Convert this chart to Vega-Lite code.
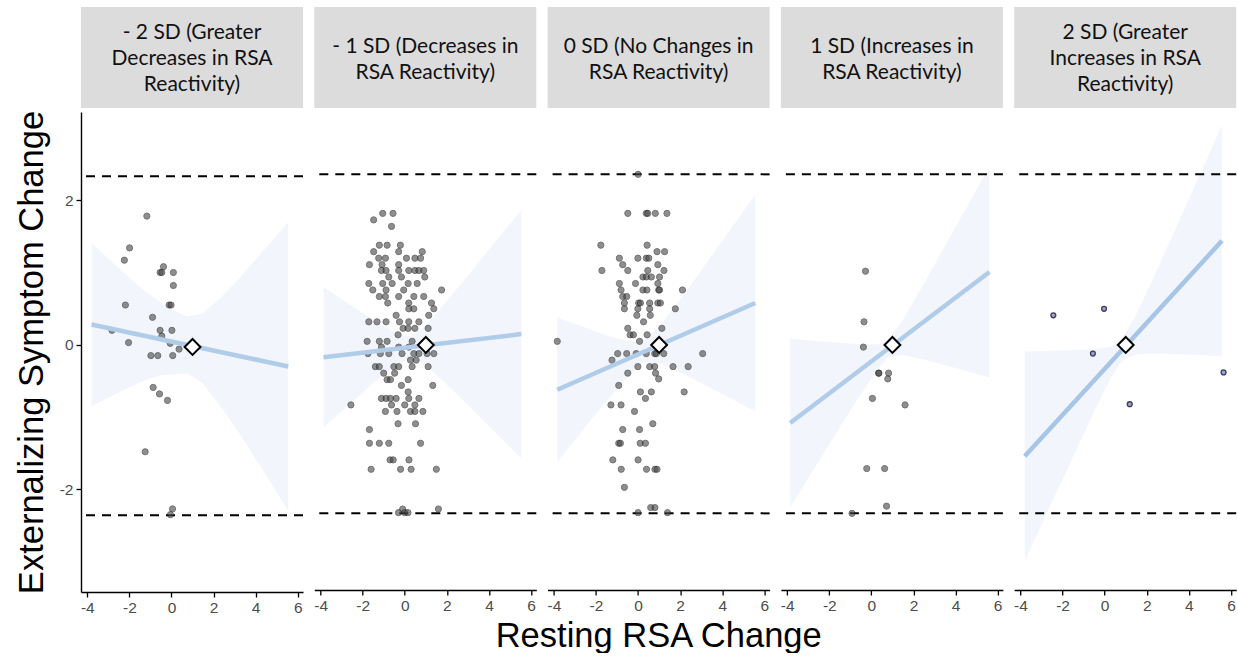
{
  "$schema": "https://vega.github.io/schema/vega-lite/v6.json",
  "padding": {"left": 14, "top": 7, "right": 0, "bottom": 0},
  "background": "white",
  "spacing": 9.3,
  "title": {"text": "Resting RSA Change", "orient": "bottom", "anchor": "middle", "font": "Liberation Sans", "fontSize": 34.5, "fontWeight": "normal", "color": "#000", "offset": 4, "dx": 33},
  "config": {
    "view": {"stroke": null},
    "axis": {"grid": false, "labelFont": "Liberation Sans", "labelFontSize": 15.5, "labelColor": "#4d4d4d", "labelPadding": 3, "labelFlush": false, "labelOverlap": false, "tickColor": "#000", "domainColor": "#000", "tickSize": 5, "tickWidth": 1.3, "domainWidth": 1.4, "titleFont": "Liberation Sans", "titleFontSize": 34.5, "titleFontWeight": "normal", "titleColor": "#000"}
  },
  "datasets": {
    "headers": [
      {"panel": 1, "label": "- 2 SD (Greater\nDecreases in RSA\nReactivity)"},
      {"panel": 2, "label": "- 1 SD (Decreases in\nRSA Reactivity)"},
      {"panel": 3, "label": "0 SD (No Changes in\nRSA Reactivity)"},
      {"panel": 4, "label": "1 SD (Increases in\nRSA Reactivity)"},
      {"panel": 5, "label": "2 SD (Greater\nIncreases in RSA\nReactivity)"}
    ],
    "refs": [{"y": 2.33}, {"y": -2.36}],
    "means": [
      {"panel": 1, "x": 1, "y": -0.03},
      {"panel": 2, "x": 1, "y": -0.03},
      {"panel": 3, "x": 1, "y": -0.03},
      {"panel": 4, "x": 1, "y": -0.03},
      {"panel": 5, "x": 1, "y": -0.03}
    ],
    "lines": [
      {"panel": 1, "x": -3.8, "y": 0.28}, {"panel": 1, "x": 5.55, "y": -0.3},
      {"panel": 2, "x": -3.86, "y": -0.2}, {"panel": 2, "x": 5.54, "y": 0.12},
      {"panel": 3, "x": -3.84, "y": -0.65}, {"panel": 3, "x": 5.57, "y": 0.55},
      {"panel": 4, "x": -3.86, "y": -1.11}, {"panel": 4, "x": 5.61, "y": 0.98},
      {"panel": 5, "x": -3.8, "y": -1.57}, {"panel": 5, "x": 5.57, "y": 1.41}
    ],
    "bands": [
      {"panel": 1, "x": -3.8, "lo": -0.85, "hi": 1.41},
      {"panel": 1, "x": -2.5, "lo": -0.66, "hi": 1.06},
      {"panel": 1, "x": -1.5, "lo": -0.52, "hi": 0.8},
      {"panel": 1, "x": -0.5, "lo": -0.42, "hi": 0.58},
      {"panel": 1, "x": 0.5, "lo": -0.4, "hi": 0.42},
      {"panel": 1, "x": 0.8, "lo": -0.4, "hi": 0.39},
      {"panel": 1, "x": 1.5, "lo": -0.54, "hi": 0.44},
      {"panel": 1, "x": 2.5, "lo": -0.92, "hi": 0.7},
      {"panel": 1, "x": 3.5, "lo": -1.35, "hi": 1.01},
      {"panel": 1, "x": 4.5, "lo": -1.81, "hi": 1.35},
      {"panel": 1, "x": 5.55, "lo": -2.3, "hi": 1.7},
      {"panel": 2, "x": -3.86, "lo": -1.17, "hi": 0.77},
      {"panel": 2, "x": -2.5, "lo": -0.82, "hi": 0.51},
      {"panel": 2, "x": -1.5, "lo": -0.56, "hi": 0.32},
      {"panel": 2, "x": -0.5, "lo": -0.32, "hi": 0.15},
      {"panel": 2, "x": 0.3, "lo": -0.21, "hi": 0.09},
      {"panel": 2, "x": 1, "lo": -0.31, "hi": 0.24},
      {"panel": 2, "x": 2, "lo": -0.58, "hi": 0.58},
      {"panel": 2, "x": 3, "lo": -0.86, "hi": 0.93},
      {"panel": 2, "x": 4, "lo": -1.15, "hi": 1.29},
      {"panel": 2, "x": 5.54, "lo": -1.6, "hi": 1.84},
      {"panel": 3, "x": -3.84, "lo": -1.65, "hi": 0.35},
      {"panel": 3, "x": -2.5, "lo": -1.16, "hi": 0.21},
      {"panel": 3, "x": -1.5, "lo": -0.81, "hi": 0.1},
      {"panel": 3, "x": -0.5, "lo": -0.47, "hi": 0.02},
      {"panel": 3, "x": 0.3, "lo": -0.27, "hi": 0.03},
      {"panel": 3, "x": 1, "lo": -0.28, "hi": 0.22},
      {"panel": 3, "x": 2, "lo": -0.41, "hi": 0.6},
      {"panel": 3, "x": 3, "lo": -0.56, "hi": 1.0},
      {"panel": 3, "x": 4, "lo": -0.71, "hi": 1.41},
      {"panel": 3, "x": 5.57, "lo": -0.95, "hi": 2.05},
      {"panel": 4, "x": -3.86, "lo": -2.28, "hi": 0.06},
      {"panel": 4, "x": -2.5, "lo": -1.64, "hi": 0.02},
      {"panel": 4, "x": -1.5, "lo": -1.17, "hi": 0.0},
      {"panel": 4, "x": -0.5, "lo": -0.71, "hi": -0.02},
      {"panel": 4, "x": 0.3, "lo": -0.36, "hi": -0.02},
      {"panel": 4, "x": 0.8, "lo": -0.2, "hi": 0.04},
      {"panel": 4, "x": 1.5, "lo": -0.17, "hi": 0.32},
      {"panel": 4, "x": 2.5, "lo": -0.23, "hi": 0.82},
      {"panel": 4, "x": 3.5, "lo": -0.31, "hi": 1.34},
      {"panel": 4, "x": 4.5, "lo": -0.39, "hi": 1.86},
      {"panel": 4, "x": 5.61, "lo": -0.48, "hi": 2.44},
      {"panel": 5, "x": -3.8, "lo": -3.02, "hi": -0.12},
      {"panel": 5, "x": -2.5, "lo": -2.2, "hi": -0.11},
      {"panel": 5, "x": -1.5, "lo": -1.58, "hi": -0.1},
      {"panel": 5, "x": -0.5, "lo": -0.95, "hi": -0.09},
      {"panel": 5, "x": 0.3, "lo": -0.48, "hi": -0.05},
      {"panel": 5, "x": 0.8, "lo": -0.26, "hi": 0.04},
      {"panel": 5, "x": 1.5, "lo": -0.16, "hi": 0.39},
      {"panel": 5, "x": 2.5, "lo": -0.15, "hi": 1.02},
      {"panel": 5, "x": 3.5, "lo": -0.16, "hi": 1.66},
      {"panel": 5, "x": 4.5, "lo": -0.17, "hi": 2.31},
      {"panel": 5, "x": 5.57, "lo": -0.19, "hi": 3.01}
    ],
    "points": [
      {"panel": 1, "x": -1.17, "y": 1.78}, {"panel": 1, "x": -1.99, "y": 1.34}, {"panel": 1, "x": -2.24, "y": 1.17},
      {"panel": 1, "x": -0.38, "y": 1.08}, {"panel": 1, "x": -0.54, "y": 1.0}, {"panel": 1, "x": -0.46, "y": 1.0},
      {"panel": 1, "x": 0.09, "y": 1.0}, {"panel": 1, "x": 0.09, "y": 0.82}, {"panel": 1, "x": -2.19, "y": 0.55},
      {"panel": 1, "x": -0.11, "y": 0.55}, {"panel": 1, "x": -0.02, "y": 0.55}, {"panel": 1, "x": -0.9, "y": 0.38},
      {"panel": 1, "x": -2.83, "y": 0.2}, {"panel": 1, "x": -0.54, "y": 0.2}, {"panel": 1, "x": 0.02, "y": 0.2},
      {"panel": 1, "x": -0.46, "y": 0.12}, {"panel": 1, "x": -2.04, "y": 0.03}, {"panel": 1, "x": -0.06, "y": 0.02},
      {"panel": 1, "x": 0.36, "y": -0.06}, {"panel": 1, "x": -0.98, "y": -0.15}, {"panel": 1, "x": -0.65, "y": -0.15},
      {"panel": 1, "x": 0.06, "y": -0.15}, {"panel": 1, "x": -0.87, "y": -0.59}, {"panel": 1, "x": -0.57, "y": -0.68},
      {"panel": 1, "x": -0.19, "y": -0.77}, {"panel": 1, "x": -1.25, "y": -1.48}, {"panel": 1, "x": -0.05, "y": -2.35},
      {"panel": 1, "x": 0.05, "y": -2.27},

      {"panel": 2, "x": -1.05, "y": 1.79}, {"panel": 2, "x": -0.56, "y": 1.79}, {"panel": 2, "x": -1.48, "y": 1.7},
      {"panel": 2, "x": -0.63, "y": 1.61}, {"panel": 2, "x": -1.21, "y": 1.35}, {"panel": 2, "x": -0.84, "y": 1.35},
      {"panel": 2, "x": -0.21, "y": 1.35}, {"panel": 2, "x": -1.48, "y": 1.26}, {"panel": 2, "x": -0.29, "y": 1.26},
      {"panel": 2, "x": 0.83, "y": 1.26}, {"panel": 2, "x": -1.24, "y": 1.17}, {"panel": 2, "x": -0.92, "y": 1.17},
      {"panel": 2, "x": 0.08, "y": 1.17}, {"panel": 2, "x": 0.48, "y": 1.17}, {"panel": 2, "x": 0.75, "y": 1.17},
      {"panel": 2, "x": -1.68, "y": 1.08}, {"panel": 2, "x": -1.08, "y": 1.08}, {"panel": 2, "x": -0.29, "y": 1.08},
      {"panel": 2, "x": -1.11, "y": 1.0}, {"panel": 2, "x": -0.89, "y": 1.0}, {"panel": 2, "x": -0.29, "y": 1.0},
      {"panel": 2, "x": 0.19, "y": 1.0}, {"panel": 2, "x": 0.48, "y": 1.0}, {"panel": 2, "x": 0.67, "y": 1.0},
      {"panel": 2, "x": 0.9, "y": 1.0}, {"panel": 2, "x": -0.76, "y": 0.91}, {"panel": 2, "x": -0.16, "y": 0.91},
      {"panel": 2, "x": 0.95, "y": 0.91}, {"panel": 2, "x": -1.71, "y": 0.82}, {"panel": 2, "x": -1.05, "y": 0.82},
      {"panel": 2, "x": -0.6, "y": 0.82}, {"panel": 2, "x": 0.16, "y": 0.82}, {"panel": 2, "x": 0.59, "y": 0.82},
      {"panel": 2, "x": -1.52, "y": 0.73}, {"panel": 2, "x": -0.89, "y": 0.73}, {"panel": 2, "x": -0.05, "y": 0.73},
      {"panel": 2, "x": 1.75, "y": 0.73}, {"panel": 2, "x": -1.21, "y": 0.64}, {"panel": 2, "x": -0.92, "y": 0.64},
      {"panel": 2, "x": -0.29, "y": 0.64}, {"panel": 2, "x": 0.43, "y": 0.64}, {"panel": 2, "x": 0.9, "y": 0.64},
      {"panel": 2, "x": -0.81, "y": 0.55}, {"panel": 2, "x": 0.19, "y": 0.55}, {"panel": 2, "x": 1.27, "y": 0.55},
      {"panel": 2, "x": 0.19, "y": 0.47}, {"panel": 2, "x": 0.43, "y": 0.47}, {"panel": 2, "x": 1.38, "y": 0.47},
      {"panel": 2, "x": -0.41, "y": 0.38}, {"panel": 2, "x": 1.14, "y": 0.38}, {"panel": 2, "x": -1.71, "y": 0.29},
      {"panel": 2, "x": -1.32, "y": 0.29}, {"panel": 2, "x": -0.89, "y": 0.29}, {"panel": 2, "x": -0.25, "y": 0.29},
      {"panel": 2, "x": 0.19, "y": 0.29}, {"panel": 2, "x": 0.67, "y": 0.29}, {"panel": 2, "x": -0.08, "y": 0.2},
      {"panel": 2, "x": 0.16, "y": 0.2}, {"panel": 2, "x": 0.48, "y": 0.2}, {"panel": 2, "x": 1.11, "y": 0.2},
      {"panel": 2, "x": -0.32, "y": 0.11}, {"panel": 2, "x": -1.79, "y": 0.02}, {"panel": 2, "x": -1.21, "y": 0.02},
      {"panel": 2, "x": -0.84, "y": 0.02}, {"panel": 2, "x": 0.35, "y": 0.02}, {"panel": 2, "x": -1.11, "y": -0.06},
      {"panel": 2, "x": -0.29, "y": -0.06}, {"panel": 2, "x": 0.19, "y": -0.06}, {"panel": 2, "x": -1.75, "y": -0.15},
      {"panel": 2, "x": -1.16, "y": -0.15}, {"panel": 2, "x": -0.76, "y": -0.15}, {"panel": 2, "x": -0.13, "y": -0.15},
      {"panel": 2, "x": 0.43, "y": -0.15}, {"panel": 2, "x": 0.67, "y": -0.15}, {"panel": 2, "x": 1.06, "y": -0.15},
      {"panel": 2, "x": 1.38, "y": -0.15}, {"panel": 2, "x": 0.27, "y": -0.24}, {"panel": 2, "x": 0.54, "y": -0.24},
      {"panel": 2, "x": -1.4, "y": -0.33}, {"panel": 2, "x": -1.21, "y": -0.33}, {"panel": 2, "x": -0.52, "y": -0.33},
      {"panel": 2, "x": -0.29, "y": -0.33}, {"panel": 2, "x": 0.35, "y": -0.33}, {"panel": 2, "x": 1.11, "y": -0.33},
      {"panel": 2, "x": -1.0, "y": -0.42}, {"panel": 2, "x": -0.48, "y": -0.42}, {"panel": 2, "x": -0.84, "y": -0.51},
      {"panel": 2, "x": -0.68, "y": -0.51}, {"panel": 2, "x": 0.16, "y": -0.51}, {"panel": 2, "x": -0.16, "y": -0.59},
      {"panel": 2, "x": 1.33, "y": -0.59}, {"panel": 2, "x": 0.16, "y": -0.68}, {"panel": 2, "x": -1.11, "y": -0.77},
      {"panel": 2, "x": -0.89, "y": -0.77}, {"panel": 2, "x": -0.68, "y": -0.77}, {"panel": 2, "x": -0.41, "y": -0.77},
      {"panel": 2, "x": 0.19, "y": -0.77}, {"panel": 2, "x": 0.67, "y": -0.77}, {"panel": 2, "x": -2.56, "y": -0.86},
      {"panel": 2, "x": -0.63, "y": -0.86}, {"panel": 2, "x": 0.0, "y": -0.86}, {"panel": 2, "x": 0.48, "y": -0.86},
      {"panel": 2, "x": -0.92, "y": -0.95}, {"panel": 2, "x": -0.37, "y": -0.95}, {"panel": 2, "x": 0.27, "y": -0.95},
      {"panel": 2, "x": 0.48, "y": -0.95}, {"panel": 2, "x": 0.86, "y": -0.95}, {"panel": 2, "x": -0.32, "y": -1.12},
      {"panel": 2, "x": 0.51, "y": -1.12}, {"panel": 2, "x": -1.68, "y": -1.2}, {"panel": 2, "x": -1.68, "y": -1.39},
      {"panel": 2, "x": -1.21, "y": -1.39}, {"panel": 2, "x": -0.76, "y": -1.39}, {"panel": 2, "x": 0.75, "y": -1.39},
      {"panel": 2, "x": -0.7, "y": -1.62}, {"panel": 2, "x": -0.55, "y": -1.62}, {"panel": 2, "x": 0.2, "y": -1.62},
      {"panel": 2, "x": -1.6, "y": -1.75}, {"panel": 2, "x": -0.2, "y": -1.75}, {"panel": 2, "x": 0.3, "y": -1.75},
      {"panel": 2, "x": 1.5, "y": -1.75}, {"panel": 2, "x": -0.1, "y": -2.3}, {"panel": 2, "x": 1.6, "y": -2.3},
      {"panel": 2, "x": -0.3, "y": -2.35}, {"panel": 2, "x": 0.0, "y": -2.35}, {"panel": 2, "x": 0.15, "y": -2.35},

      {"panel": 3, "x": -0.49, "y": 1.79}, {"panel": 3, "x": 0.39, "y": 1.79}, {"panel": 3, "x": 0.46, "y": 1.79},
      {"panel": 3, "x": 0.82, "y": 1.79}, {"panel": 3, "x": 1.37, "y": 1.79}, {"panel": 3, "x": -1.77, "y": 1.35},
      {"panel": 3, "x": 0.43, "y": 1.35}, {"panel": 3, "x": 0.9, "y": 1.26}, {"panel": 3, "x": 1.26, "y": 1.26},
      {"panel": 3, "x": -0.89, "y": 1.17}, {"panel": 3, "x": -0.01, "y": 1.17}, {"panel": 3, "x": 0.39, "y": 1.17},
      {"panel": 3, "x": 0.51, "y": 1.17}, {"panel": 3, "x": -0.73, "y": 1.08}, {"panel": 3, "x": 0.94, "y": 1.08},
      {"panel": 3, "x": -1.72, "y": 1.0}, {"panel": 3, "x": -0.49, "y": 1.0}, {"panel": 3, "x": 0.46, "y": 1.0},
      {"panel": 3, "x": 1.23, "y": 1.0}, {"panel": 3, "x": 0.23, "y": 0.91}, {"panel": 3, "x": 0.39, "y": 0.91},
      {"panel": 3, "x": 0.63, "y": 0.91}, {"panel": 3, "x": 1.02, "y": 0.91}, {"panel": 3, "x": -0.89, "y": 0.82},
      {"panel": 3, "x": -0.12, "y": 0.82}, {"panel": 3, "x": 0.94, "y": 0.82}, {"panel": 3, "x": -0.81, "y": 0.73},
      {"panel": 3, "x": 0.23, "y": 0.73}, {"panel": 3, "x": 0.42, "y": 0.73}, {"panel": 3, "x": 0.98, "y": 0.73},
      {"panel": 3, "x": 1.02, "y": 0.73}, {"panel": 3, "x": 2.11, "y": 0.73}, {"panel": 3, "x": -0.73, "y": 0.64},
      {"panel": 3, "x": -0.54, "y": 0.64}, {"panel": 3, "x": -0.65, "y": 0.55}, {"panel": 3, "x": 0.03, "y": 0.55},
      {"panel": 3, "x": 0.11, "y": 0.55}, {"panel": 3, "x": 0.55, "y": 0.55}, {"panel": 3, "x": 0.94, "y": 0.55},
      {"panel": 3, "x": 1.06, "y": 0.55}, {"panel": 3, "x": -0.65, "y": 0.47}, {"panel": 3, "x": -0.01, "y": 0.47},
      {"panel": 3, "x": 0.55, "y": 0.47}, {"panel": 3, "x": 1.77, "y": 0.47}, {"panel": 3, "x": -0.06, "y": 0.38},
      {"panel": 3, "x": 0.58, "y": 0.38}, {"panel": 3, "x": 0.26, "y": 0.29}, {"panel": 3, "x": -0.49, "y": 0.2},
      {"panel": 3, "x": 1.13, "y": 0.2}, {"panel": 3, "x": -0.38, "y": 0.11}, {"panel": 3, "x": -0.22, "y": 0.11},
      {"panel": 3, "x": 0.43, "y": 0.11}, {"panel": 3, "x": -3.84, "y": 0.02}, {"panel": 3, "x": 0.07, "y": 0.02},
      {"panel": 3, "x": -0.97, "y": -0.15}, {"panel": 3, "x": -0.54, "y": -0.15}, {"panel": 3, "x": -0.09, "y": -0.15},
      {"panel": 3, "x": 0.39, "y": -0.15}, {"panel": 3, "x": 0.79, "y": -0.15}, {"panel": 3, "x": 0.87, "y": -0.15},
      {"panel": 3, "x": 1.22, "y": -0.15}, {"panel": 3, "x": 3.07, "y": -0.15}, {"panel": 3, "x": -1.24, "y": -0.24},
      {"panel": 3, "x": -0.01, "y": -0.33}, {"panel": 3, "x": 0.55, "y": -0.33}, {"panel": 3, "x": 0.79, "y": -0.33},
      {"panel": 3, "x": 1.66, "y": -0.33}, {"panel": 3, "x": 2.38, "y": -0.33}, {"panel": 3, "x": -0.49, "y": -0.42},
      {"panel": 3, "x": 0.83, "y": -0.42}, {"panel": 3, "x": 0.98, "y": -0.5}, {"panel": 3, "x": -0.92, "y": -0.59},
      {"panel": 3, "x": 0.11, "y": -0.68}, {"panel": 3, "x": 0.63, "y": -0.68}, {"panel": 3, "x": 2.19, "y": -0.68},
      {"panel": 3, "x": 0.35, "y": -0.77}, {"panel": 3, "x": -1.29, "y": -0.86}, {"panel": 3, "x": -0.81, "y": -0.86},
      {"panel": 3, "x": -0.17, "y": -0.95}, {"panel": 3, "x": 0.7, "y": -1.12}, {"panel": 3, "x": -0.73, "y": -1.2},
      {"panel": 3, "x": 0.07, "y": -1.2}, {"panel": 3, "x": -0.92, "y": -1.39}, {"panel": 3, "x": -0.84, "y": -1.39},
      {"panel": 3, "x": 0.1, "y": -1.39}, {"panel": 3, "x": 0.35, "y": -1.39}, {"panel": 3, "x": -1.2, "y": -1.62},
      {"panel": 3, "x": 0.0, "y": -1.62}, {"panel": 3, "x": -0.8, "y": -1.75}, {"panel": 3, "x": 0.4, "y": -1.75},
      {"panel": 3, "x": 0.8, "y": -1.75}, {"panel": 3, "x": 0.9, "y": -1.75}, {"panel": 3, "x": -0.65, "y": -2.0},
      {"panel": 3, "x": 0.8, "y": -2.28}, {"panel": 3, "x": 0.6, "y": -2.28}, {"panel": 3, "x": 0.0, "y": -2.35},
      {"panel": 3, "x": 1.4, "y": -2.35}, {"panel": 3, "x": 0.0, "y": 2.33},

      {"panel": 4, "x": -0.28, "y": 0.99}, {"panel": 4, "x": -0.35, "y": 0.29}, {"panel": 4, "x": -0.38, "y": -0.06},
      {"panel": 4, "x": 0.34, "y": -0.42}, {"panel": 4, "x": 0.36, "y": -0.42}, {"panel": 4, "x": 0.82, "y": -0.42},
      {"panel": 4, "x": 0.78, "y": -0.5}, {"panel": 4, "x": 0.05, "y": -0.77}, {"panel": 4, "x": 1.6, "y": -0.86},
      {"panel": 4, "x": -0.22, "y": -1.74}, {"panel": 4, "x": 0.63, "y": -1.74}, {"panel": 4, "x": 0.72, "y": -2.26},
      {"panel": 4, "x": -0.92, "y": -2.36},

      {"panel": 5, "x": -2.44, "y": 0.38}, {"panel": 5, "x": -0.03, "y": 0.47}, {"panel": 5, "x": -0.56, "y": -0.15},
      {"panel": 5, "x": 1.19, "y": -0.85}, {"panel": 5, "x": 5.65, "y": -0.41}
    ]
  },
  "hconcat": [
    {
      "spacing": 2,
      "vconcat": [
        {"width": 222, "height": 101, "view": {"fill": "#dcdcdc", "stroke": null}, "data": {"name": "headers"}, "transform": [{"filter": "datum.panel == 1"}],
         "mark": {"type": "text", "font": "Lato", "fontSize": 21, "color": "#111", "align": "center", "baseline": "middle", "lineBreak": "\n", "lineHeight": 26, "dy": -25},
         "encoding": {"text": {"field": "label", "type": "nominal"}}},
        {"width": 222, "height": 480, "layer": [
          {"data": {"name": "bands"}, "transform": [{"filter": "datum.panel == 1"}], "mark": {"type": "area", "color": "#f2f6fc", "opacity": 1},
           "encoding": {"x": {"field": "x", "type": "quantitative", "scale": {"domain": [-4.3, 6.25], "nice": false, "zero": false}, "axis": {"values": [-4, -2, 0, 2, 4, 6], "title": null, "labelExpr": "datum.value < 0 ? '-' + abs(datum.value) : '' + datum.value"}},
                        "y": {"field": "lo", "type": "quantitative", "scale": {"domain": [-3.42, 3.22], "nice": false, "zero": false}, "axis": {"values": [-2, 0, 2], "title": "Externalizing Symptom Change", "titlePadding": 10, "labelExpr": "datum.value < 0 ? '-' + abs(datum.value) : '' + datum.value"}}, "y2": {"field": "hi"}}},
          {"data": {"name": "refs"}, "mark": {"type": "rule", "strokeDash": [9, 7], "strokeWidth": 2, "color": "#000"},
           "encoding": {"y": {"field": "y", "type": "quantitative"}}},
          {"data": {"name": "points"}, "transform": [{"filter": "datum.panel == 1"}], "mark": {"type": "circle", "size": 38, "fill": "#4a4a4a", "stroke": "#1e1e1e", "strokeWidth": 1, "opacity": 0.62},
           "encoding": {"x": {"field": "x", "type": "quantitative"}, "y": {"field": "y", "type": "quantitative"}}},
          {"data": {"name": "lines"}, "transform": [{"filter": "datum.panel == 1"}], "mark": {"type": "line", "color": "#b0cce9", "strokeWidth": 4.5},
           "encoding": {"x": {"field": "x", "type": "quantitative"}, "y": {"field": "y", "type": "quantitative"}}},
          {"data": {"name": "means"}, "transform": [{"filter": "datum.panel == 1"}], "mark": {"type": "point", "shape": "diamond", "filled": true, "fill": "#fff", "stroke": "#000", "strokeWidth": 2, "size": 250, "opacity": 1},
           "encoding": {"x": {"field": "x", "type": "quantitative"}, "y": {"field": "y", "type": "quantitative"}}}
        ]}
      ]
    },
    {
      "spacing": 2,
      "vconcat": [
        {"width": 222, "height": 101, "view": {"fill": "#dcdcdc", "stroke": null}, "data": {"name": "headers"}, "transform": [{"filter": "datum.panel == 2"}],
         "mark": {"type": "text", "font": "Lato", "fontSize": 21, "color": "#111", "align": "center", "baseline": "middle", "lineBreak": "\n", "lineHeight": 26, "dy": -11},
         "encoding": {"text": {"field": "label", "type": "nominal"}}},
        {"width": 222, "height": 480, "layer": [
          {"data": {"name": "bands"}, "transform": [{"filter": "datum.panel == 2"}], "mark": {"type": "area", "color": "#f2f6fc", "opacity": 1},
           "encoding": {"x": {"field": "x", "type": "quantitative", "scale": {"domain": [-4.3, 6.25], "nice": false, "zero": false}, "axis": {"values": [-4, -2, 0, 2, 4, 6], "title": null, "labelExpr": "datum.value < 0 ? '-' + abs(datum.value) : '' + datum.value"}},
                        "y": {"field": "lo", "type": "quantitative", "scale": {"domain": [-3.42, 3.22], "nice": false, "zero": false}, "axis": null}, "y2": {"field": "hi"}}},
          {"data": {"name": "refs"}, "mark": {"type": "rule", "strokeDash": [9, 7], "strokeWidth": 2, "color": "#000"},
           "encoding": {"y": {"field": "y", "type": "quantitative", "axis": null}}},
          {"data": {"name": "points"}, "transform": [{"filter": "datum.panel == 2"}], "mark": {"type": "circle", "size": 38, "fill": "#4a4a4a", "stroke": "#1e1e1e", "strokeWidth": 1, "opacity": 0.62},
           "encoding": {"x": {"field": "x", "type": "quantitative"}, "y": {"field": "y", "type": "quantitative", "axis": null}}},
          {"data": {"name": "lines"}, "transform": [{"filter": "datum.panel == 2"}], "mark": {"type": "line", "color": "#b0cce9", "strokeWidth": 4.5},
           "encoding": {"x": {"field": "x", "type": "quantitative"}, "y": {"field": "y", "type": "quantitative", "axis": null}}},
          {"data": {"name": "means"}, "transform": [{"filter": "datum.panel == 2"}], "mark": {"type": "point", "shape": "diamond", "filled": true, "fill": "#fff", "stroke": "#000", "strokeWidth": 2, "size": 250, "opacity": 1},
           "encoding": {"x": {"field": "x", "type": "quantitative"}, "y": {"field": "y", "type": "quantitative", "axis": null}}}
        ]}
      ]
    },
    {
      "spacing": 2,
      "vconcat": [
        {"width": 222, "height": 101, "view": {"fill": "#dcdcdc", "stroke": null}, "data": {"name": "headers"}, "transform": [{"filter": "datum.panel == 3"}],
         "mark": {"type": "text", "font": "Lato", "fontSize": 21, "color": "#111", "align": "center", "baseline": "middle", "lineBreak": "\n", "lineHeight": 26, "dy": -11},
         "encoding": {"text": {"field": "label", "type": "nominal"}}},
        {"width": 222, "height": 480, "layer": [
          {"data": {"name": "bands"}, "transform": [{"filter": "datum.panel == 3"}], "mark": {"type": "area", "color": "#f2f6fc", "opacity": 1},
           "encoding": {"x": {"field": "x", "type": "quantitative", "scale": {"domain": [-4.3, 6.25], "nice": false, "zero": false}, "axis": {"values": [-4, -2, 0, 2, 4, 6], "title": null, "labelExpr": "datum.value < 0 ? '-' + abs(datum.value) : '' + datum.value"}},
                        "y": {"field": "lo", "type": "quantitative", "scale": {"domain": [-3.42, 3.22], "nice": false, "zero": false}, "axis": null}, "y2": {"field": "hi"}}},
          {"data": {"name": "refs"}, "mark": {"type": "rule", "strokeDash": [9, 7], "strokeWidth": 2, "color": "#000"},
           "encoding": {"y": {"field": "y", "type": "quantitative", "axis": null}}},
          {"data": {"name": "points"}, "transform": [{"filter": "datum.panel == 3"}], "mark": {"type": "circle", "size": 38, "fill": "#4a4a4a", "stroke": "#1e1e1e", "strokeWidth": 1, "opacity": 0.62},
           "encoding": {"x": {"field": "x", "type": "quantitative"}, "y": {"field": "y", "type": "quantitative", "axis": null}}},
          {"data": {"name": "lines"}, "transform": [{"filter": "datum.panel == 3"}], "mark": {"type": "line", "color": "#b0cce9", "strokeWidth": 4.5},
           "encoding": {"x": {"field": "x", "type": "quantitative"}, "y": {"field": "y", "type": "quantitative", "axis": null}}},
          {"data": {"name": "means"}, "transform": [{"filter": "datum.panel == 3"}], "mark": {"type": "point", "shape": "diamond", "filled": true, "fill": "#fff", "stroke": "#000", "strokeWidth": 2, "size": 250, "opacity": 1},
           "encoding": {"x": {"field": "x", "type": "quantitative"}, "y": {"field": "y", "type": "quantitative", "axis": null}}}
        ]}
      ]
    },
    {
      "spacing": 2,
      "vconcat": [
        {"width": 222, "height": 101, "view": {"fill": "#dcdcdc", "stroke": null}, "data": {"name": "headers"}, "transform": [{"filter": "datum.panel == 4"}],
         "mark": {"type": "text", "font": "Lato", "fontSize": 21, "color": "#111", "align": "center", "baseline": "middle", "lineBreak": "\n", "lineHeight": 26, "dy": -11},
         "encoding": {"text": {"field": "label", "type": "nominal"}}},
        {"width": 222, "height": 480, "layer": [
          {"data": {"name": "bands"}, "transform": [{"filter": "datum.panel == 4"}], "mark": {"type": "area", "color": "#f2f6fc", "opacity": 1},
           "encoding": {"x": {"field": "x", "type": "quantitative", "scale": {"domain": [-4.3, 6.25], "nice": false, "zero": false}, "axis": {"values": [-4, -2, 0, 2, 4, 6], "title": null, "labelExpr": "datum.value < 0 ? '-' + abs(datum.value) : '' + datum.value"}},
                        "y": {"field": "lo", "type": "quantitative", "scale": {"domain": [-3.42, 3.22], "nice": false, "zero": false}, "axis": null}, "y2": {"field": "hi"}}},
          {"data": {"name": "refs"}, "mark": {"type": "rule", "strokeDash": [9, 7], "strokeWidth": 2, "color": "#000"},
           "encoding": {"y": {"field": "y", "type": "quantitative", "axis": null}}},
          {"data": {"name": "points"}, "transform": [{"filter": "datum.panel == 4"}], "mark": {"type": "circle", "size": 38, "fill": "#4a4a4a", "stroke": "#1e1e1e", "strokeWidth": 1, "opacity": 0.62},
           "encoding": {"x": {"field": "x", "type": "quantitative"}, "y": {"field": "y", "type": "quantitative", "axis": null}}},
          {"data": {"name": "lines"}, "transform": [{"filter": "datum.panel == 4"}], "mark": {"type": "line", "color": "#b0cce9", "strokeWidth": 4.5},
           "encoding": {"x": {"field": "x", "type": "quantitative"}, "y": {"field": "y", "type": "quantitative", "axis": null}}},
          {"data": {"name": "means"}, "transform": [{"filter": "datum.panel == 4"}], "mark": {"type": "point", "shape": "diamond", "filled": true, "fill": "#fff", "stroke": "#000", "strokeWidth": 2, "size": 250, "opacity": 1},
           "encoding": {"x": {"field": "x", "type": "quantitative"}, "y": {"field": "y", "type": "quantitative", "axis": null}}}
        ]}
      ]
    },
    {
      "spacing": 2,
      "vconcat": [
        {"width": 222, "height": 101, "view": {"fill": "#dcdcdc", "stroke": null}, "data": {"name": "headers"}, "transform": [{"filter": "datum.panel == 5"}],
         "mark": {"type": "text", "font": "Lato", "fontSize": 21, "color": "#111", "align": "center", "baseline": "middle", "lineBreak": "\n", "lineHeight": 26, "dy": -25},
         "encoding": {"text": {"field": "label", "type": "nominal"}}},
        {"width": 222, "height": 480, "layer": [
          {"data": {"name": "bands"}, "transform": [{"filter": "datum.panel == 5"}], "mark": {"type": "area", "color": "#f2f6fc", "opacity": 1},
           "encoding": {"x": {"field": "x", "type": "quantitative", "scale": {"domain": [-4.3, 6.25], "nice": false, "zero": false}, "axis": {"values": [-4, -2, 0, 2, 4, 6], "title": null, "labelExpr": "datum.value < 0 ? '-' + abs(datum.value) : '' + datum.value"}},
                        "y": {"field": "lo", "type": "quantitative", "scale": {"domain": [-3.42, 3.22], "nice": false, "zero": false}, "axis": null}, "y2": {"field": "hi"}}},
          {"data": {"name": "refs"}, "mark": {"type": "rule", "strokeDash": [9, 7], "strokeWidth": 2, "color": "#000"},
           "encoding": {"y": {"field": "y", "type": "quantitative", "axis": null}}},
          {"data": {"name": "points"}, "transform": [{"filter": "datum.panel == 5"}], "mark": {"type": "circle", "size": 24, "fill": "#9898c0", "stroke": "#2a2a50", "strokeWidth": 1.3, "opacity": 0.9},
           "encoding": {"x": {"field": "x", "type": "quantitative"}, "y": {"field": "y", "type": "quantitative", "axis": null}}},
          {"data": {"name": "lines"}, "transform": [{"filter": "datum.panel == 5"}], "mark": {"type": "line", "color": "#a6c5e7", "strokeWidth": 4.5},
           "encoding": {"x": {"field": "x", "type": "quantitative"}, "y": {"field": "y", "type": "quantitative", "axis": null}}},
          {"data": {"name": "means"}, "transform": [{"filter": "datum.panel == 5"}], "mark": {"type": "point", "shape": "diamond", "filled": true, "fill": "#fff", "stroke": "#000", "strokeWidth": 2, "size": 250, "opacity": 1},
           "encoding": {"x": {"field": "x", "type": "quantitative"}, "y": {"field": "y", "type": "quantitative", "axis": null}}}
        ]}
      ]
    }
  ]
}
